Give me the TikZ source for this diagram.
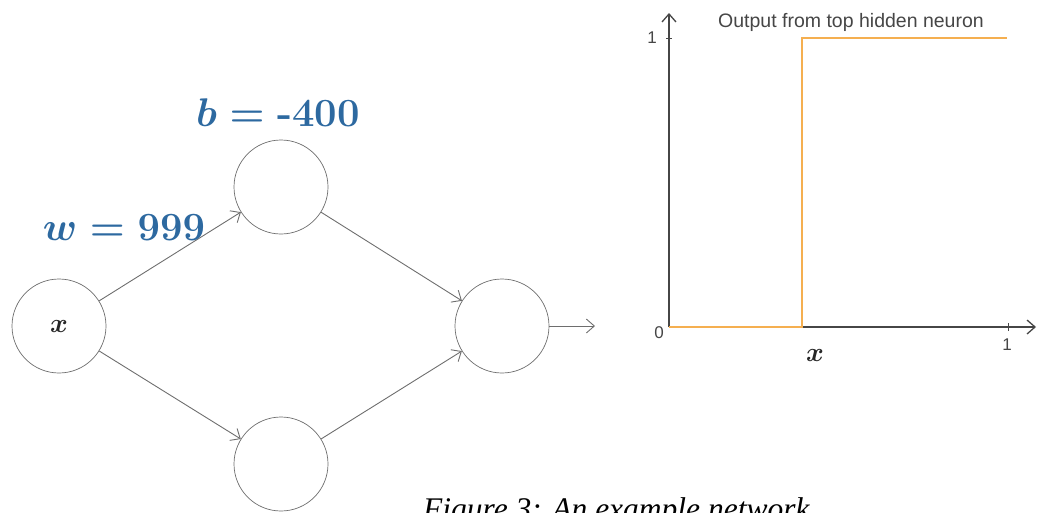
\documentclass[tikz,border=0pt]{standalone}
\usepackage{fix-cm}
\usepackage{fontspec}
\newfontfamily\arialf{Liberation Sans}
\newfontfamily\capfont{Liberation Serif}
\usetikzlibrary{arrows.meta}
\definecolor{lblblue}{RGB}{45,105,160}
\definecolor{edgegray}{RGB}{110,110,110}
\definecolor{axisgray}{RGB}{70,70,70}
\definecolor{stepor}{RGB}{245,175,80}
\tikzset{
  neuron/.style={circle, draw=edgegray, line width=0.7pt, minimum size=94pt, inner sep=0pt},
  conn/.style={draw=edgegray, line width=0.9pt, -{Straight Barb[length=8pt,width=14pt]}},
  axisline/.style={draw=axisgray, line width=1.3pt, -{Straight Barb[length=8pt,width=14pt]}},
  steplin/.style={draw=stepor, line width=1.3pt},
  wlabel/.style={text=lblblue, inner sep=0pt, font=\fontsize{40}{48}\selectfont\boldmath},
  ticklbl/.style={text=axisgray, inner sep=0pt, font=\arialf\fontsize{17}{20}\selectfont},
  plottitle/.style={text=axisgray, inner sep=0pt, font=\arialf\fontsize{19.5}{23}\selectfont},
  xlbl/.style={inner sep=0pt, text=black!85, font=\fontsize{27}{32}\selectfont\boldmath},
  captext/.style={inner sep=0pt, font=\capfont\itshape\fontsize{31.5}{36}\selectfont}
}
\begin{document}
\begin{tikzpicture}[x=1pt,y=-1pt]
\useasboundingbox (0,0) rectangle (1038,512);
% network
\node[neuron] (in) at (59,326) {};
\node[xlbl] (inx) at (59,326) {$x$};
\node[neuron] (h1) at (281,187) {};
\node[neuron] (h2) at (281,464) {};
\node[neuron] (out) at (502,326) {};
\coordinate (outend) at (595,326);
\draw[conn] (in) -- (h1);
\draw[conn] (in) -- (h2);
\draw[conn] (h1) -- (out);
\draw[conn] (h2) -- (out);
\draw[conn] (out) -- (outend);
\node[wlabel] (blbl) at (278,113) {$b = \hbox{\bfseries -400}$};
\node[wlabel] (wlbl) at (124,228) {$w = 999$};
% plot
\coordinate (origin) at (669,327);
\coordinate (ytop) at (669,13);
\coordinate (xend) at (1036,327);
\coordinate (s1) at (802,327);
\coordinate (s2) at (802,38);
\coordinate (s3) at (1007,38);
\draw[axisline] (origin) -- (ytop);
\draw[axisline] (origin) -- (xend);
\draw[draw=axisgray, line width=1pt] (666,38) -- (672,38);
\draw[draw=axisgray, line width=1pt] (1008,323) -- (1008,331);
\draw[steplin] (origin) -- (s1) -- (s2) -- (s3);
\node[ticklbl] (y1) at (652,38) {1};
\node[ticklbl] (y0) at (659,333) {0};
\node[ticklbl] (x1) at (1007,345) {1};
\node[xlbl] (xaxl) at (815,355) {$x$};
\node[plottitle, anchor=west] (ttl) at (718,22) {Output from top hidden neuron};
% caption
\node[captext, anchor=base west] (cap) at (423,519) {Figure 3: An example network};
\end{tikzpicture}
\end{document}
